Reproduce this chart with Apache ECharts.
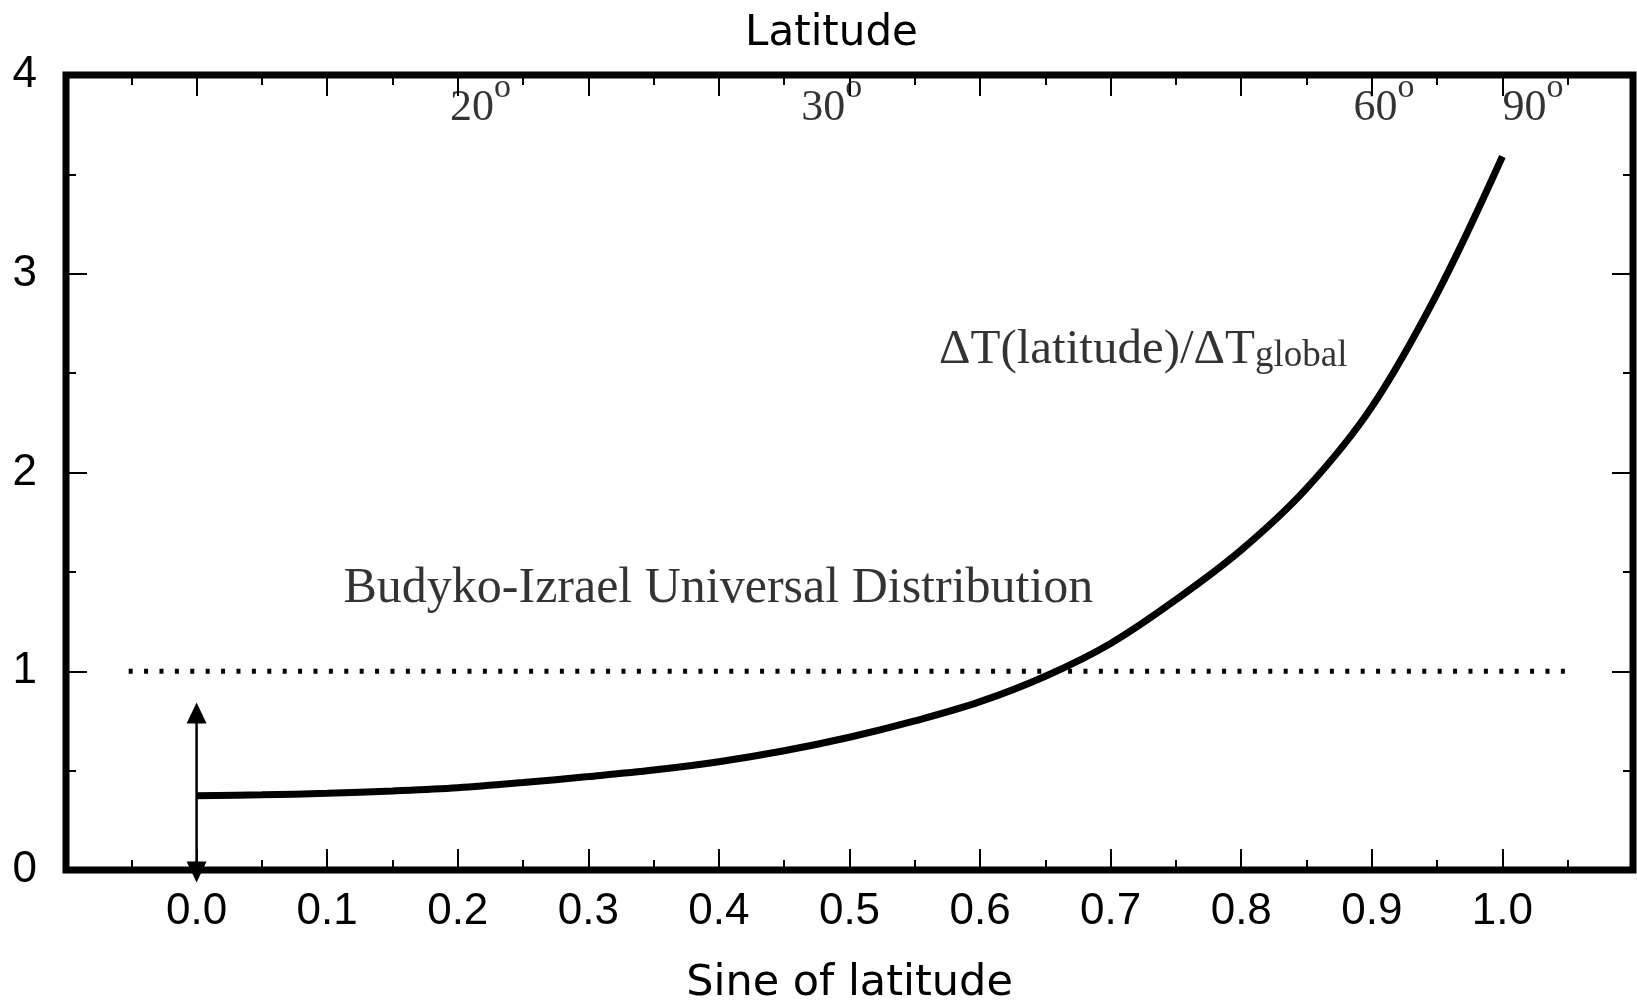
<!DOCTYPE html>
<html><head><meta charset="utf-8">
<script src="https://cdn.jsdelivr.net/npm/echarts@6/dist/echarts.min.js"></script>
<style>html,body{margin:0;padding:0;background:#fff}#chart{width:1637px;height:1005px}</style>
</head><body><div id="chart"></div>
<script>
// ---- data ----
const sineLat = [0.00,0.05,0.10,0.15,0.20,0.25,0.30,0.35,0.40,0.45,0.50,0.55,0.60,0.65,0.70,0.75,0.80,0.85,0.90,0.95,1.00];
const ratio   = [0.374,0.378,0.386,0.398,0.414,0.440,0.470,0.503,0.545,0.600,0.668,0.750,0.847,0.975,1.140,1.360,1.610,1.920,2.330,2.900,3.590];
const budykoLevel = 1.0;
const budykoSpan = [-0.052, 1.05];
const arrowX = 0.0;
const arrowSpan = [-0.01, 0.79];
const latDegrees = ['20', '30', '60', '90'];
const latDegreeX = [0.194, 0.463, 0.886, 1.0];
const latDegreeY = 3.83;
const budykoText = 'Budyko-Izrael Universal Distribution';
const budykoTextPos = [0.1125, 1.414];
const curveText = 'ΔT(latitude)/ΔT';
const curveTextSub = 'global';
const curveTextPos = [0.5685, 2.616];
const xTitle = 'Sine of latitude';
const topTitle = 'Latitude';

const chart = echarts.init(document.getElementById('chart'), null, {renderer: 'canvas'});
const sans = 'Liberation Sans';
const serif = 'Liberation Serif';

function xAxisCfg(pos, showLabels) {
  return {
    type: 'value', position: pos, min: -0.1, max: 1.1, interval: 0.1,
    axisLine: {show: false, onZero: false},
    axisTick: {show: true, inside: true, length: 21, lineStyle: {color: '#000', width: 2}},
    minorTick: {show: true, splitNumber: 2, length: 10, lineStyle: {color: '#000', width: 2}},
    splitLine: {show: false}, minorSplitLine: {show: false},
    axisLabel: {
      show: showLabels, margin: 20, color: '#000', fontFamily: sans, fontSize: 44,
      showMinLabel: false, showMaxLabel: false,
      formatter: v => (v < -0.001 || v > 1.001) ? '' : v.toFixed(1)
    }
  };
}
function yAxisCfg(pos, showLabels) {
  return {
    type: 'value', position: pos, min: 0, max: 4, interval: 1,
    axisLine: {show: false, onZero: false},
    axisTick: {show: true, inside: true, length: 21, lineStyle: {color: '#000', width: 2}},
    minorTick: {show: true, splitNumber: 2, length: 10, lineStyle: {color: '#000', width: 2}},
    splitLine: {show: false}, minorSplitLine: {show: false},
    axisLabel: {show: showLabels, margin: 29, color: '#000', fontFamily: sans, fontSize: 44}
  };
}

const xb = xAxisCfg('bottom', true);
xb.name = xTitle; xb.nameLocation = 'middle'; xb.nameGap = 92;
xb.nameTextStyle = {fontFamily: 'DejaVu Sans', fontSize: 43, color: '#000'};
const xt = xAxisCfg('top', false);
xt.name = topTitle; xt.nameLocation = 'middle'; xt.nameGap = 20;
xt.nameTextStyle = {fontFamily: 'DejaVu Sans', fontSize: 42, color: '#000', padding: [0, 36, 0, 0]};

const option = {
  animation: false,
  backgroundColor: '#fff',
  grid: {left: 66, right: 4, top: 75, bottom: 135, show: true, borderColor: '#000', borderWidth: 7,
         backgroundColor: 'transparent', containLabel: false, outerBoundsMode: 'none'},
  xAxis: [xb, xt],
  yAxis: [yAxisCfg('left', true), yAxisCfg('right', false)],
  series: [
    {
      name: 'ratio', type: 'line', xAxisIndex: 0, yAxisIndex: 0,
      data: sineLat.map((x, i) => [x, ratio[i]]),
      smooth: 0.35, symbol: 'none',
      lineStyle: {color: '#000', width: 7, cap: 'butt'}, z: 3
    },
    {
      name: 'budyko', type: 'line', xAxisIndex: 0, yAxisIndex: 0,
      data: budykoSpan.map(x => [x, budykoLevel]),
      symbol: 'none',
      lineStyle: {color: '#000', width: 5, type: [4, 11.4]}, z: 2
    },
    {
      name: 'arrow', type: 'line', xAxisIndex: 0, yAxisIndex: 0, clip: false,
      data: [
        {value: [arrowX, arrowSpan[0]], symbolRotate: 180},
        {value: [arrowX, arrowSpan[1]], symbolRotate: 0}
      ],
      symbol: 'triangle', symbolSize: [20, 21], showSymbol: true,
      itemStyle: {color: '#000'},
      lineStyle: {color: '#000', width: 2.5}, z: 4
    },
    {
      name: 'labels', type: 'scatter', xAxisIndex: 0, yAxisIndex: 0, symbolSize: 0, silent: true,
      data: [
        {value: budykoTextPos, label: {formatter: budykoText, fontFamily: serif, fontSize: 50, color: '#000'}},
        {value: curveTextPos, label: {
          color: '#000',
          formatter: '{m|' + curveText + '}{s|' + curveTextSub + '}',
          rich: {
            m: {fontFamily: serif, fontSize: 49, lineHeight: 49, color: '#000'},
            s: {fontFamily: serif, fontSize: 37, lineHeight: 23, verticalAlign: 'bottom', color: '#000'}
          }
        }}
      ].concat(latDegrees.map((d, i) => ({
        value: [latDegreeX[i], latDegreeY],
        label: {
          color: '#000',
          formatter: '{d|' + d + '}{o|o}',
          rich: {
            d: {fontFamily: serif, fontSize: 44, lineHeight: 76, color: '#000'},
            o: {fontFamily: serif, fontSize: 34, lineHeight: 12, verticalAlign: 'top', color: '#000'}
          }
        }
      }))),
      label: {show: true, position: 'right', distance: 0, align: 'left', verticalAlign: 'middle',
              color: '#000', textBorderWidth: 0},
      z: 5
    }
  ]
};
chart.setOption(option);
</script></body></html>
